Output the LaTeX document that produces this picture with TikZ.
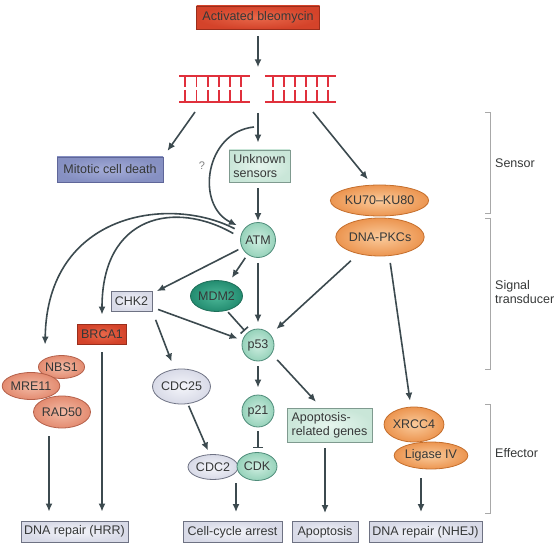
\documentclass[tikz,border=0pt]{standalone}
\usepackage{fontspec}
\setmainfont{Liberation Sans}
\usepackage{tikz}
\usetikzlibrary{arrows.meta,positioning,shapes.geometric,calc}
\definecolor{dmgtext}{HTML}{363838}
\definecolor{dmgarrow}{HTML}{3C4A4F}
\definecolor{dmgred}{HTML}{D4432A}
\definecolor{dmgredin}{HTML}{E8684A}
\definecolor{dmgredrule}{HTML}{9A2E1C}
\definecolor{dmgdna}{HTML}{E0303C}
\definecolor{dmgblue}{HTML}{8690C2}
\definecolor{dmgbluein}{HTML}{A4ACD8}
\definecolor{dmgbluerule}{HTML}{5F6699}
\definecolor{dmgpale}{HTML}{C9E6D8}
\definecolor{dmgpalein}{HTML}{E6F5EE}
\definecolor{dmgpalerule}{HTML}{7F9A8F}
\definecolor{dmgmint}{HTML}{96D2BA}
\definecolor{dmgmintin}{HTML}{CFEEE1}
\definecolor{dmgmintrule}{HTML}{4F8C7A}
\definecolor{dmgteal}{HTML}{238C70}
\definecolor{dmgtealin}{HTML}{4DB898}
\definecolor{dmgtealrule}{HTML}{1E6E59}
\definecolor{dmglav}{HTML}{D8DAE7}
\definecolor{dmglavin}{HTML}{F4F5FA}
\definecolor{dmglavrule}{HTML}{6E7283}
\definecolor{dmgorange}{HTML}{EC9550}
\definecolor{dmgorangein}{HTML}{FACB9C}
\definecolor{dmgorangerule}{HTML}{C46E2C}
\definecolor{dmgsalmon}{HTML}{E38B70}
\definecolor{dmgsalmonin}{HTML}{F3BBA6}
\definecolor{dmgsalmonrule}{HTML}{B4604A}
\definecolor{dmgbracket}{HTML}{A8A8A8}

\begin{document}
\begin{tikzpicture}[font=\fontsize{12.5}{14}\selectfont, >=Latex, x=1pt, y=-1pt]
  \tikzset{lbl/.style={text=dmgtext, inner sep=0pt, align=center},
           rbox/.style={lbl, rectangle, line width=0.8pt},
           oval/.style={lbl, ellipse, line width=0.8pt},
           mintfill/.style={inner color=dmgmintin, outer color=dmgmint, draw=dmgmintrule},
           rnd/.style={lbl, circle, line width=0.8pt, mintfill},
           redbox/.style={rbox, inner color=dmgredin, outer color=dmgred, draw=dmgredrule},
           bluebox/.style={rbox, inner color=dmgbluein, outer color=dmgblue, draw=dmgbluerule},
           palebox/.style={rbox, inner color=dmgpalein, outer color=dmgpale, draw=dmgpalerule, align=left},
           lavbox/.style={rbox, inner color=dmglavin, outer color=dmglav, draw=dmglavrule, minimum height=21pt},
           lavoval/.style={oval, inner color=dmglavin, outer color=dmglav, draw=dmglavrule},
           orgoval/.style={oval, inner color=dmgorangein, outer color=dmgorange, draw=dmgorangerule},
           salmoval/.style={oval, inner color=dmgsalmonin, outer color=dmgsalmon, draw=dmgsalmonrule},
           arr/.style={draw=dmgarrow, line width=1.6pt, -{Latex[length=8pt,width=7pt]}},
           inh/.style={draw=dmgarrow, line width=1.6pt, -{Bar[width=10pt]}},
           bracket/.style={draw=dmgbracket, line width=1pt},
           side/.style={lbl, anchor=west, align=left}}
  \useasboundingbox (0,0) rectangle (559,548);
  % damage
  \node[redbox, minimum width=123pt, minimum height=23pt] (bleo) at (258,17.5) {Activated bleomycin};
  \node[minimum width=157pt, minimum height=27pt, inner sep=0pt] (dna) at (258,89) {};
  \foreach \a/\b in {179/250, 265/336} {
    \draw[dmgdna, line width=1.4pt] (\a,76) -- (\b,76) (\a,102) -- (\b,102);
  }
  \foreach \r in {185,196.5,208,219,230,241,273,284,295,306,317,328} {
    \draw[dmgdna, line width=1.4pt] (\r,76) -- (\r,87) (\r,90) -- (\r,102);
  }
  \coordinate (cutL) at (195,112);
  \coordinate (cutC) at (258,113);
  \coordinate (cutR) at (313,112);
  \coordinate (qsrc) at (254,127);
  % sensors
  \node[bluebox, minimum width=106pt, minimum height=25pt] (mitotic) at (110,169.5) {Mitotic cell death};
  \node[palebox, minimum width=61pt, minimum height=32pt] (usens) at (259.5,166) {Unknown\\sensors};
  \node[lbl, text=gray, font=\fontsize{11}{12}\selectfont] (qm) at (202,166) {?};
  \node[rnd, minimum size=35pt] (atm) at (258,240) {ATM};
  \node[orgoval, minimum width=87pt, minimum height=31pt] (ku) at (379.5,200.5) {KU70--KU80};
  \node[orgoval, minimum width=73pt, minimum height=38pt] (pkcs) at (380,237) {DNA-PKCs};
  % transducers
  \node[lavbox, minimum width=41pt, minimum height=20pt] (chk2) at (131.5,301) {CHK2};
  \node[oval, inner color=dmgtealin, outer color=dmgteal, draw=dmgtealrule, minimum width=51pt, minimum height=31pt] (mdm2) at (216.5,296) {MDM2};
  \node[rnd, minimum size=32pt] (p53) at (258,345) {p53};
  \node[redbox, minimum width=49pt, minimum height=20pt] (brca1) at (102,334) {BRCA1};
  % effectors
  \node[salmoval, minimum width=43pt, minimum height=23pt] (nbs1) at (61.5,367) {NBS1};
  \node[salmoval, minimum width=48pt, minimum height=27pt] (mre11) at (31,386) {MRE11};
  \node[salmoval, minimum width=51pt, minimum height=32pt] (rad50) at (62,412) {RAD50};
  \node[lavoval, minimum width=51pt, minimum height=35pt] (cdc25) at (181.5,386.5) {CDC25};
  \node[rnd, minimum size=32pt] (p21) at (258,411) {p21};
  \node[lavoval, minimum width=50pt, minimum height=25pt] (cdc2) at (213,467) {CDC2};
  \node[oval, mintfill, minimum width=40pt, minimum height=28pt] (cdk) at (257,466.5) {CDK};
  \node[palebox, minimum width=85pt, minimum height=34pt] (apgenes) at (329.5,425) {Apoptosis-\\related genes};
  \node[orgoval, minimum width=55pt, minimum height=35pt] (xrcc4) at (414,424.5) {XRCC4};
  \node[orgoval, minimum width=61pt, minimum height=27pt] (ligase) at (431,455.5) {Ligase IV};
  \coordinate (radout) at (49,427);
  \coordinate (cdcout) at (236,480);
  \coordinate (ligout) at (421,469);
  % outcomes
  \node[lavbox, minimum width=107pt] (hrr) at (74.5,531.5) {DNA repair (HRR)};
  \node[lavbox, minimum width=99pt] (arrest) at (232.5,532) {Cell-cycle arrest};
  \node[lavbox, minimum width=66pt] (apoptosis) at (325,532) {Apoptosis};
  \node[lavbox, minimum width=113pt] (nhej) at (425.5,532) {DNA repair (NHEJ)};
  % connectors
  \draw[arr, shorten <=7pt, shorten >=8pt] (bleo) -- (dna);
  \draw[arr, shorten >=7pt] (cutL) -- (mitotic.north east);
  \draw[arr, shorten >=7pt] (cutC) -- (cutC |- usens.north);
  \draw[arr, shorten >=7pt] (cutR) -- (ku.115);
  \draw[arr, shorten >=8pt] (qsrc) .. controls (205,132) and (195,205) .. (atm.141);
  \draw[arr, shorten <=6pt, shorten >=1pt] (atm.north |- usens.south) -- (atm.north);
  \draw[arr, shorten <=8pt, shorten >=14pt] (atm.155) .. controls (170,195) and (47,212) .. (nbs1.north west);
  \draw[arr, shorten <=8pt, shorten >=9pt] (atm.172) .. controls (175,200) and (102,215) .. (brca1.north);
  \draw[arr, shorten <=4pt, shorten >=5pt] (atm.206) -- (chk2.20);
  \draw[arr, shorten <=4pt, shorten >=5pt] (atm.234) -- (mdm2.48);
  \draw[arr, shorten <=5pt, shorten >=6pt] (atm.south) -- (p53.north);
  \draw[inh, shorten <=2pt, shorten >=3pt] (mdm2.305) -- (p53.133);
  \draw[arr, shorten <=6pt, shorten >=5pt] (chk2.343) -- (p53.163);
  \draw[arr, shorten <=10pt, shorten >=8pt] (pkcs.218) -- (p53.40);
  \draw[arr, shorten <=7pt, shorten >=6pt] (pkcs.296) -- (xrcc4.100);
  \draw[arr, shorten <=9pt, shorten >=8pt] (chk2.south east) -- (cdc25.112);
  \draw[arr, shorten <=2pt, shorten >=4pt] (cdc25.290) -- (cdc2.105);
  \draw[arr, shorten <=5pt, shorten >=7pt] (p53) -- (p21);
  \draw[inh, shorten <=4pt, shorten >=4pt] (p21.south) -- (p21.south |- cdk.north);
  \draw[arr, shorten <=8pt, shorten >=8pt] (p53.327) -- (apgenes.115);
  \draw[arr, shorten <=6pt, shorten >=8pt] (apoptosis.north |- apgenes.south) -- (apoptosis.north);
  \draw[arr, shorten <=3pt, shorten >=9pt] (cdcout) -- (cdcout |- arrest.north);
  \draw[arr, shorten <=9pt, shorten >=9pt] (radout) -- (radout |- hrr.north);
  \draw[arr, shorten <=8pt, shorten >=9pt] (brca1.south) -- (brca1.south |- hrr.north);
  \draw[arr, shorten <=9pt, shorten >=9pt] (ligout) -- (ligout |- nhej.north);
  % stages
  \draw[bracket] (485,113) -- (490,113) -- (490,213) -- (485,213);
  \draw[bracket] (485,218) -- (490,218) -- (490,369) -- (485,369);
  \draw[bracket] (485,404) -- (490,404) -- (490,513) -- (485,513);
  \node[side] (sensor) at (495,163) {Sensor};
  \node[side] (signal) at (495,292) {Signal\\transducer};
  \node[side] (effector) at (495,453) {Effector};
\end{tikzpicture}
\end{document}
